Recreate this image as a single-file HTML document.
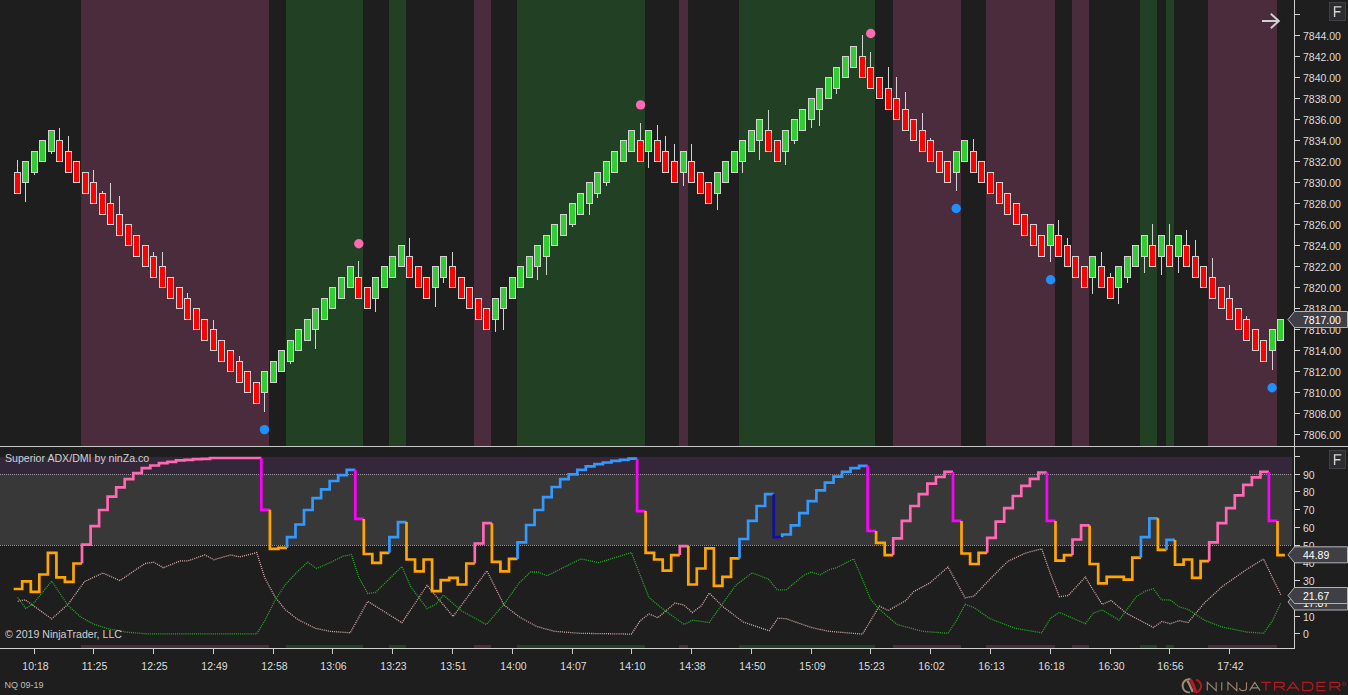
<!DOCTYPE html>
<html><head><meta charset="utf-8"><title>chart</title>
<style>html,body{margin:0;padding:0;background:#1e1e1e;width:1348px;height:695px;overflow:hidden;font-family:"Liberation Sans",sans-serif}</style>
</head><body>
<svg width="1348" height="695" viewBox="0 0 1348 695" style="position:absolute;left:0;top:0">
<rect x="0" y="0" width="1348" height="695" fill="#1e1e1e"/>
<g shape-rendering="crispEdges">
<rect x="81" y="0" width="188" height="446" fill="#4a2c3c"/>
<rect x="81" y="645" width="188" height="3" fill="#4a2c3c"/>
<rect x="286" y="0" width="77" height="446" fill="#224024"/>
<rect x="286" y="645" width="77" height="3" fill="#224024"/>
<rect x="389" y="0" width="17" height="446" fill="#224024"/>
<rect x="389" y="645" width="17" height="3" fill="#224024"/>
<rect x="474" y="0" width="17" height="446" fill="#4a2c3c"/>
<rect x="474" y="645" width="17" height="3" fill="#4a2c3c"/>
<rect x="517" y="0" width="128" height="446" fill="#224024"/>
<rect x="517" y="645" width="128" height="3" fill="#224024"/>
<rect x="679" y="0" width="9" height="446" fill="#4a2c3c"/>
<rect x="679" y="645" width="9" height="3" fill="#4a2c3c"/>
<rect x="739" y="0" width="136" height="446" fill="#224024"/>
<rect x="739" y="645" width="136" height="3" fill="#224024"/>
<rect x="893" y="0" width="68" height="446" fill="#4a2c3c"/>
<rect x="893" y="645" width="68" height="3" fill="#4a2c3c"/>
<rect x="986" y="0" width="69" height="446" fill="#4a2c3c"/>
<rect x="986" y="645" width="69" height="3" fill="#4a2c3c"/>
<rect x="1072" y="0" width="17" height="446" fill="#4a2c3c"/>
<rect x="1072" y="645" width="17" height="3" fill="#4a2c3c"/>
<rect x="1140" y="0" width="17" height="446" fill="#224024"/>
<rect x="1140" y="645" width="17" height="3" fill="#224024"/>
<rect x="1166" y="0" width="8" height="446" fill="#224024"/>
<rect x="1166" y="645" width="8" height="3" fill="#224024"/>
<rect x="1208" y="0" width="69" height="446" fill="#4a2c3c"/>
<rect x="1208" y="645" width="69" height="3" fill="#4a2c3c"/>
</g>
<g shape-rendering="crispEdges">
<rect x="17" y="160" width="1" height="12" fill="#d3d3d3"/>
<rect x="14" y="172" width="7" height="22" fill="#d3d3d3"/>
<rect x="15" y="173" width="5" height="20" fill="#ff0000"/>
<rect x="25" y="183" width="1" height="19" fill="#d3d3d3"/>
<rect x="22" y="161" width="7" height="22" fill="#d3d3d3"/>
<rect x="23" y="162" width="5" height="20" fill="#32cd32"/>
<rect x="34" y="173" width="1" height="2" fill="#d3d3d3"/>
<rect x="31" y="151" width="7" height="22" fill="#d3d3d3"/>
<rect x="32" y="152" width="5" height="20" fill="#32cd32"/>
<rect x="39" y="140" width="7" height="22" fill="#d3d3d3"/>
<rect x="40" y="141" width="5" height="20" fill="#32cd32"/>
<rect x="51" y="152" width="1" height="2" fill="#d3d3d3"/>
<rect x="48" y="130" width="7" height="22" fill="#d3d3d3"/>
<rect x="49" y="131" width="5" height="20" fill="#32cd32"/>
<rect x="59" y="128" width="1" height="12" fill="#d3d3d3"/>
<rect x="56" y="140" width="7" height="22" fill="#d3d3d3"/>
<rect x="57" y="141" width="5" height="20" fill="#ff0000"/>
<rect x="68" y="136" width="1" height="15" fill="#d3d3d3"/>
<rect x="65" y="151" width="7" height="22" fill="#d3d3d3"/>
<rect x="66" y="152" width="5" height="20" fill="#ff0000"/>
<rect x="73" y="161" width="7" height="22" fill="#d3d3d3"/>
<rect x="74" y="162" width="5" height="20" fill="#ff0000"/>
<rect x="82" y="172" width="7" height="22" fill="#d3d3d3"/>
<rect x="83" y="173" width="5" height="20" fill="#ff0000"/>
<rect x="93" y="170" width="1" height="12" fill="#d3d3d3"/>
<rect x="90" y="182" width="7" height="22" fill="#d3d3d3"/>
<rect x="91" y="183" width="5" height="20" fill="#ff0000"/>
<rect x="102" y="191" width="1" height="2" fill="#d3d3d3"/>
<rect x="99" y="193" width="7" height="22" fill="#d3d3d3"/>
<rect x="100" y="194" width="5" height="20" fill="#ff0000"/>
<rect x="110" y="183" width="1" height="20" fill="#d3d3d3"/>
<rect x="107" y="203" width="7" height="22" fill="#d3d3d3"/>
<rect x="108" y="204" width="5" height="20" fill="#ff0000"/>
<rect x="119" y="196" width="1" height="18" fill="#d3d3d3"/>
<rect x="116" y="214" width="7" height="22" fill="#d3d3d3"/>
<rect x="117" y="215" width="5" height="20" fill="#ff0000"/>
<rect x="125" y="224" width="7" height="22" fill="#d3d3d3"/>
<rect x="126" y="225" width="5" height="20" fill="#ff0000"/>
<rect x="133" y="235" width="7" height="22" fill="#d3d3d3"/>
<rect x="134" y="236" width="5" height="20" fill="#ff0000"/>
<rect x="142" y="245" width="7" height="22" fill="#d3d3d3"/>
<rect x="143" y="246" width="5" height="20" fill="#ff0000"/>
<rect x="153" y="252" width="1" height="4" fill="#d3d3d3"/>
<rect x="150" y="256" width="7" height="22" fill="#d3d3d3"/>
<rect x="151" y="257" width="5" height="20" fill="#ff0000"/>
<rect x="162" y="252" width="1" height="14" fill="#d3d3d3"/>
<rect x="159" y="266" width="7" height="22" fill="#d3d3d3"/>
<rect x="160" y="267" width="5" height="20" fill="#ff0000"/>
<rect x="167" y="277" width="7" height="22" fill="#d3d3d3"/>
<rect x="168" y="278" width="5" height="20" fill="#ff0000"/>
<rect x="176" y="287" width="7" height="22" fill="#d3d3d3"/>
<rect x="177" y="288" width="5" height="20" fill="#ff0000"/>
<rect x="187" y="293" width="1" height="5" fill="#d3d3d3"/>
<rect x="184" y="298" width="7" height="22" fill="#d3d3d3"/>
<rect x="185" y="299" width="5" height="20" fill="#ff0000"/>
<rect x="193" y="308" width="7" height="22" fill="#d3d3d3"/>
<rect x="194" y="309" width="5" height="20" fill="#ff0000"/>
<rect x="201" y="319" width="7" height="22" fill="#d3d3d3"/>
<rect x="202" y="320" width="5" height="20" fill="#ff0000"/>
<rect x="213" y="320" width="1" height="9" fill="#d3d3d3"/>
<rect x="210" y="329" width="7" height="22" fill="#d3d3d3"/>
<rect x="211" y="330" width="5" height="20" fill="#ff0000"/>
<rect x="218" y="340" width="7" height="22" fill="#d3d3d3"/>
<rect x="219" y="341" width="5" height="20" fill="#ff0000"/>
<rect x="227" y="350" width="7" height="22" fill="#d3d3d3"/>
<rect x="228" y="351" width="5" height="20" fill="#ff0000"/>
<rect x="239" y="356" width="1" height="5" fill="#d3d3d3"/>
<rect x="236" y="361" width="7" height="22" fill="#d3d3d3"/>
<rect x="237" y="362" width="5" height="20" fill="#ff0000"/>
<rect x="244" y="371" width="7" height="22" fill="#d3d3d3"/>
<rect x="245" y="372" width="5" height="20" fill="#ff0000"/>
<rect x="253" y="382" width="7" height="22" fill="#d3d3d3"/>
<rect x="254" y="383" width="5" height="20" fill="#ff0000"/>
<rect x="264" y="393" width="1" height="19" fill="#d3d3d3"/>
<rect x="261" y="371" width="7" height="22" fill="#d3d3d3"/>
<rect x="262" y="372" width="5" height="20" fill="#32cd32"/>
<rect x="270" y="361" width="7" height="22" fill="#d3d3d3"/>
<rect x="271" y="362" width="5" height="20" fill="#32cd32"/>
<rect x="278" y="350" width="7" height="22" fill="#d3d3d3"/>
<rect x="279" y="351" width="5" height="20" fill="#32cd32"/>
<rect x="290" y="362" width="1" height="2" fill="#d3d3d3"/>
<rect x="287" y="340" width="7" height="22" fill="#d3d3d3"/>
<rect x="288" y="341" width="5" height="20" fill="#32cd32"/>
<rect x="295" y="329" width="7" height="22" fill="#d3d3d3"/>
<rect x="296" y="330" width="5" height="20" fill="#32cd32"/>
<rect x="304" y="319" width="7" height="22" fill="#d3d3d3"/>
<rect x="305" y="320" width="5" height="20" fill="#32cd32"/>
<rect x="315" y="330" width="1" height="19" fill="#d3d3d3"/>
<rect x="312" y="308" width="7" height="22" fill="#d3d3d3"/>
<rect x="313" y="309" width="5" height="20" fill="#32cd32"/>
<rect x="321" y="298" width="7" height="22" fill="#d3d3d3"/>
<rect x="322" y="299" width="5" height="20" fill="#32cd32"/>
<rect x="329" y="287" width="7" height="22" fill="#d3d3d3"/>
<rect x="330" y="288" width="5" height="20" fill="#32cd32"/>
<rect x="338" y="277" width="7" height="22" fill="#d3d3d3"/>
<rect x="339" y="278" width="5" height="20" fill="#32cd32"/>
<rect x="347" y="266" width="7" height="22" fill="#d3d3d3"/>
<rect x="348" y="267" width="5" height="20" fill="#32cd32"/>
<rect x="358" y="261" width="1" height="16" fill="#d3d3d3"/>
<rect x="355" y="277" width="7" height="22" fill="#d3d3d3"/>
<rect x="356" y="278" width="5" height="20" fill="#ff0000"/>
<rect x="364" y="287" width="7" height="22" fill="#d3d3d3"/>
<rect x="365" y="288" width="5" height="20" fill="#ff0000"/>
<rect x="375" y="299" width="1" height="13" fill="#d3d3d3"/>
<rect x="372" y="277" width="7" height="22" fill="#d3d3d3"/>
<rect x="373" y="278" width="5" height="20" fill="#32cd32"/>
<rect x="381" y="266" width="7" height="22" fill="#d3d3d3"/>
<rect x="382" y="267" width="5" height="20" fill="#32cd32"/>
<rect x="389" y="256" width="7" height="22" fill="#d3d3d3"/>
<rect x="390" y="257" width="5" height="20" fill="#32cd32"/>
<rect x="398" y="245" width="7" height="22" fill="#d3d3d3"/>
<rect x="399" y="246" width="5" height="20" fill="#32cd32"/>
<rect x="409" y="238" width="1" height="18" fill="#d3d3d3"/>
<rect x="406" y="256" width="7" height="22" fill="#d3d3d3"/>
<rect x="407" y="257" width="5" height="20" fill="#ff0000"/>
<rect x="415" y="266" width="7" height="22" fill="#d3d3d3"/>
<rect x="416" y="267" width="5" height="20" fill="#ff0000"/>
<rect x="423" y="277" width="7" height="22" fill="#d3d3d3"/>
<rect x="424" y="278" width="5" height="20" fill="#ff0000"/>
<rect x="435" y="288" width="1" height="19" fill="#d3d3d3"/>
<rect x="432" y="266" width="7" height="22" fill="#d3d3d3"/>
<rect x="433" y="267" width="5" height="20" fill="#32cd32"/>
<rect x="443" y="278" width="1" height="5" fill="#d3d3d3"/>
<rect x="440" y="256" width="7" height="22" fill="#d3d3d3"/>
<rect x="441" y="257" width="5" height="20" fill="#32cd32"/>
<rect x="452" y="252" width="1" height="14" fill="#d3d3d3"/>
<rect x="449" y="266" width="7" height="22" fill="#d3d3d3"/>
<rect x="450" y="267" width="5" height="20" fill="#ff0000"/>
<rect x="458" y="277" width="7" height="22" fill="#d3d3d3"/>
<rect x="459" y="278" width="5" height="20" fill="#ff0000"/>
<rect x="466" y="287" width="7" height="22" fill="#d3d3d3"/>
<rect x="467" y="288" width="5" height="20" fill="#ff0000"/>
<rect x="475" y="298" width="7" height="22" fill="#d3d3d3"/>
<rect x="476" y="299" width="5" height="20" fill="#ff0000"/>
<rect x="483" y="308" width="7" height="22" fill="#d3d3d3"/>
<rect x="484" y="309" width="5" height="20" fill="#ff0000"/>
<rect x="495" y="320" width="1" height="12" fill="#d3d3d3"/>
<rect x="492" y="298" width="7" height="22" fill="#d3d3d3"/>
<rect x="493" y="299" width="5" height="20" fill="#32cd32"/>
<rect x="503" y="309" width="1" height="21" fill="#d3d3d3"/>
<rect x="500" y="287" width="7" height="22" fill="#d3d3d3"/>
<rect x="501" y="288" width="5" height="20" fill="#32cd32"/>
<rect x="509" y="277" width="7" height="22" fill="#d3d3d3"/>
<rect x="510" y="278" width="5" height="20" fill="#32cd32"/>
<rect x="517" y="266" width="7" height="22" fill="#d3d3d3"/>
<rect x="518" y="267" width="5" height="20" fill="#32cd32"/>
<rect x="526" y="256" width="7" height="22" fill="#d3d3d3"/>
<rect x="527" y="257" width="5" height="20" fill="#32cd32"/>
<rect x="537" y="267" width="1" height="13" fill="#d3d3d3"/>
<rect x="534" y="245" width="7" height="22" fill="#d3d3d3"/>
<rect x="535" y="246" width="5" height="20" fill="#32cd32"/>
<rect x="546" y="257" width="1" height="18" fill="#d3d3d3"/>
<rect x="543" y="235" width="7" height="22" fill="#d3d3d3"/>
<rect x="544" y="236" width="5" height="20" fill="#32cd32"/>
<rect x="551" y="224" width="7" height="22" fill="#d3d3d3"/>
<rect x="552" y="225" width="5" height="20" fill="#32cd32"/>
<rect x="560" y="214" width="7" height="22" fill="#d3d3d3"/>
<rect x="561" y="215" width="5" height="20" fill="#32cd32"/>
<rect x="572" y="225" width="1" height="2" fill="#d3d3d3"/>
<rect x="569" y="203" width="7" height="22" fill="#d3d3d3"/>
<rect x="570" y="204" width="5" height="20" fill="#32cd32"/>
<rect x="577" y="193" width="7" height="22" fill="#d3d3d3"/>
<rect x="578" y="194" width="5" height="20" fill="#32cd32"/>
<rect x="589" y="204" width="1" height="11" fill="#d3d3d3"/>
<rect x="586" y="182" width="7" height="22" fill="#d3d3d3"/>
<rect x="587" y="183" width="5" height="20" fill="#32cd32"/>
<rect x="597" y="194" width="1" height="4" fill="#d3d3d3"/>
<rect x="594" y="172" width="7" height="22" fill="#d3d3d3"/>
<rect x="595" y="173" width="5" height="20" fill="#32cd32"/>
<rect x="606" y="183" width="1" height="3" fill="#d3d3d3"/>
<rect x="603" y="161" width="7" height="22" fill="#d3d3d3"/>
<rect x="604" y="162" width="5" height="20" fill="#32cd32"/>
<rect x="611" y="151" width="7" height="22" fill="#d3d3d3"/>
<rect x="612" y="152" width="5" height="20" fill="#32cd32"/>
<rect x="620" y="140" width="7" height="22" fill="#d3d3d3"/>
<rect x="621" y="141" width="5" height="20" fill="#32cd32"/>
<rect x="628" y="130" width="7" height="22" fill="#d3d3d3"/>
<rect x="629" y="131" width="5" height="20" fill="#32cd32"/>
<rect x="640" y="123" width="1" height="17" fill="#d3d3d3"/>
<rect x="637" y="140" width="7" height="22" fill="#d3d3d3"/>
<rect x="638" y="141" width="5" height="20" fill="#ff0000"/>
<rect x="648" y="152" width="1" height="16" fill="#d3d3d3"/>
<rect x="645" y="130" width="7" height="22" fill="#d3d3d3"/>
<rect x="646" y="131" width="5" height="20" fill="#32cd32"/>
<rect x="657" y="125" width="1" height="15" fill="#d3d3d3"/>
<rect x="654" y="140" width="7" height="22" fill="#d3d3d3"/>
<rect x="655" y="141" width="5" height="20" fill="#ff0000"/>
<rect x="665" y="136" width="1" height="15" fill="#d3d3d3"/>
<rect x="662" y="151" width="7" height="22" fill="#d3d3d3"/>
<rect x="663" y="152" width="5" height="20" fill="#ff0000"/>
<rect x="674" y="144" width="1" height="17" fill="#d3d3d3"/>
<rect x="671" y="161" width="7" height="22" fill="#d3d3d3"/>
<rect x="672" y="162" width="5" height="20" fill="#ff0000"/>
<rect x="683" y="173" width="1" height="13" fill="#d3d3d3"/>
<rect x="680" y="151" width="7" height="22" fill="#d3d3d3"/>
<rect x="681" y="152" width="5" height="20" fill="#32cd32"/>
<rect x="691" y="144" width="1" height="17" fill="#d3d3d3"/>
<rect x="688" y="161" width="7" height="22" fill="#d3d3d3"/>
<rect x="689" y="162" width="5" height="20" fill="#ff0000"/>
<rect x="697" y="172" width="7" height="22" fill="#d3d3d3"/>
<rect x="698" y="173" width="5" height="20" fill="#ff0000"/>
<rect x="705" y="182" width="7" height="22" fill="#d3d3d3"/>
<rect x="706" y="183" width="5" height="20" fill="#ff0000"/>
<rect x="717" y="194" width="1" height="16" fill="#d3d3d3"/>
<rect x="714" y="172" width="7" height="22" fill="#d3d3d3"/>
<rect x="715" y="173" width="5" height="20" fill="#32cd32"/>
<rect x="722" y="161" width="7" height="22" fill="#d3d3d3"/>
<rect x="723" y="162" width="5" height="20" fill="#32cd32"/>
<rect x="731" y="151" width="7" height="22" fill="#d3d3d3"/>
<rect x="732" y="152" width="5" height="20" fill="#32cd32"/>
<rect x="742" y="162" width="1" height="11" fill="#d3d3d3"/>
<rect x="739" y="140" width="7" height="22" fill="#d3d3d3"/>
<rect x="740" y="141" width="5" height="20" fill="#32cd32"/>
<rect x="748" y="130" width="7" height="22" fill="#d3d3d3"/>
<rect x="749" y="131" width="5" height="20" fill="#32cd32"/>
<rect x="759" y="141" width="1" height="19" fill="#d3d3d3"/>
<rect x="756" y="119" width="7" height="22" fill="#d3d3d3"/>
<rect x="757" y="120" width="5" height="20" fill="#32cd32"/>
<rect x="768" y="110" width="1" height="20" fill="#d3d3d3"/>
<rect x="765" y="130" width="7" height="22" fill="#d3d3d3"/>
<rect x="766" y="131" width="5" height="20" fill="#ff0000"/>
<rect x="774" y="140" width="7" height="22" fill="#d3d3d3"/>
<rect x="775" y="141" width="5" height="20" fill="#ff0000"/>
<rect x="785" y="152" width="1" height="13" fill="#d3d3d3"/>
<rect x="782" y="130" width="7" height="22" fill="#d3d3d3"/>
<rect x="783" y="131" width="5" height="20" fill="#32cd32"/>
<rect x="794" y="141" width="1" height="3" fill="#d3d3d3"/>
<rect x="791" y="119" width="7" height="22" fill="#d3d3d3"/>
<rect x="792" y="120" width="5" height="20" fill="#32cd32"/>
<rect x="799" y="109" width="7" height="22" fill="#d3d3d3"/>
<rect x="800" y="110" width="5" height="20" fill="#32cd32"/>
<rect x="811" y="120" width="1" height="8" fill="#d3d3d3"/>
<rect x="808" y="98" width="7" height="22" fill="#d3d3d3"/>
<rect x="809" y="99" width="5" height="20" fill="#32cd32"/>
<rect x="819" y="110" width="1" height="16" fill="#d3d3d3"/>
<rect x="816" y="88" width="7" height="22" fill="#d3d3d3"/>
<rect x="817" y="89" width="5" height="20" fill="#32cd32"/>
<rect x="825" y="77" width="7" height="22" fill="#d3d3d3"/>
<rect x="826" y="78" width="5" height="20" fill="#32cd32"/>
<rect x="836" y="89" width="1" height="5" fill="#d3d3d3"/>
<rect x="833" y="67" width="7" height="22" fill="#d3d3d3"/>
<rect x="834" y="68" width="5" height="20" fill="#32cd32"/>
<rect x="842" y="56" width="7" height="22" fill="#d3d3d3"/>
<rect x="843" y="57" width="5" height="20" fill="#32cd32"/>
<rect x="850" y="46" width="7" height="22" fill="#d3d3d3"/>
<rect x="851" y="47" width="5" height="20" fill="#32cd32"/>
<rect x="862" y="35" width="1" height="21" fill="#d3d3d3"/>
<rect x="859" y="56" width="7" height="22" fill="#d3d3d3"/>
<rect x="860" y="57" width="5" height="20" fill="#ff0000"/>
<rect x="870" y="52" width="1" height="15" fill="#d3d3d3"/>
<rect x="867" y="67" width="7" height="22" fill="#d3d3d3"/>
<rect x="868" y="68" width="5" height="20" fill="#ff0000"/>
<rect x="876" y="77" width="7" height="22" fill="#d3d3d3"/>
<rect x="877" y="78" width="5" height="20" fill="#ff0000"/>
<rect x="888" y="67" width="1" height="21" fill="#d3d3d3"/>
<rect x="885" y="88" width="7" height="22" fill="#d3d3d3"/>
<rect x="886" y="89" width="5" height="20" fill="#ff0000"/>
<rect x="896" y="77" width="1" height="21" fill="#d3d3d3"/>
<rect x="893" y="98" width="7" height="22" fill="#d3d3d3"/>
<rect x="894" y="99" width="5" height="20" fill="#ff0000"/>
<rect x="905" y="92" width="1" height="17" fill="#d3d3d3"/>
<rect x="902" y="109" width="7" height="22" fill="#d3d3d3"/>
<rect x="903" y="110" width="5" height="20" fill="#ff0000"/>
<rect x="910" y="119" width="7" height="22" fill="#d3d3d3"/>
<rect x="911" y="120" width="5" height="20" fill="#ff0000"/>
<rect x="922" y="113" width="1" height="17" fill="#d3d3d3"/>
<rect x="919" y="130" width="7" height="22" fill="#d3d3d3"/>
<rect x="920" y="131" width="5" height="20" fill="#ff0000"/>
<rect x="930" y="138" width="1" height="2" fill="#d3d3d3"/>
<rect x="927" y="140" width="7" height="22" fill="#d3d3d3"/>
<rect x="928" y="141" width="5" height="20" fill="#ff0000"/>
<rect x="936" y="151" width="7" height="22" fill="#d3d3d3"/>
<rect x="937" y="152" width="5" height="20" fill="#ff0000"/>
<rect x="944" y="161" width="7" height="22" fill="#d3d3d3"/>
<rect x="945" y="162" width="5" height="20" fill="#ff0000"/>
<rect x="956" y="173" width="1" height="18" fill="#d3d3d3"/>
<rect x="953" y="151" width="7" height="22" fill="#d3d3d3"/>
<rect x="954" y="152" width="5" height="20" fill="#32cd32"/>
<rect x="961" y="140" width="7" height="22" fill="#d3d3d3"/>
<rect x="962" y="141" width="5" height="20" fill="#32cd32"/>
<rect x="973" y="139" width="1" height="12" fill="#d3d3d3"/>
<rect x="970" y="151" width="7" height="22" fill="#d3d3d3"/>
<rect x="971" y="152" width="5" height="20" fill="#ff0000"/>
<rect x="978" y="161" width="7" height="22" fill="#d3d3d3"/>
<rect x="979" y="162" width="5" height="20" fill="#ff0000"/>
<rect x="987" y="172" width="7" height="22" fill="#d3d3d3"/>
<rect x="988" y="173" width="5" height="20" fill="#ff0000"/>
<rect x="996" y="182" width="7" height="22" fill="#d3d3d3"/>
<rect x="997" y="183" width="5" height="20" fill="#ff0000"/>
<rect x="1004" y="193" width="7" height="22" fill="#d3d3d3"/>
<rect x="1005" y="194" width="5" height="20" fill="#ff0000"/>
<rect x="1013" y="203" width="7" height="22" fill="#d3d3d3"/>
<rect x="1014" y="204" width="5" height="20" fill="#ff0000"/>
<rect x="1021" y="214" width="7" height="22" fill="#d3d3d3"/>
<rect x="1022" y="215" width="5" height="20" fill="#ff0000"/>
<rect x="1030" y="224" width="7" height="22" fill="#d3d3d3"/>
<rect x="1031" y="225" width="5" height="20" fill="#ff0000"/>
<rect x="1038" y="235" width="7" height="22" fill="#d3d3d3"/>
<rect x="1039" y="236" width="5" height="20" fill="#ff0000"/>
<rect x="1050" y="246" width="1" height="16" fill="#d3d3d3"/>
<rect x="1047" y="224" width="7" height="22" fill="#d3d3d3"/>
<rect x="1048" y="225" width="5" height="20" fill="#32cd32"/>
<rect x="1058" y="220" width="1" height="15" fill="#d3d3d3"/>
<rect x="1055" y="235" width="7" height="22" fill="#d3d3d3"/>
<rect x="1056" y="236" width="5" height="20" fill="#ff0000"/>
<rect x="1067" y="238" width="1" height="7" fill="#d3d3d3"/>
<rect x="1064" y="245" width="7" height="22" fill="#d3d3d3"/>
<rect x="1065" y="246" width="5" height="20" fill="#ff0000"/>
<rect x="1072" y="256" width="7" height="22" fill="#d3d3d3"/>
<rect x="1073" y="257" width="5" height="20" fill="#ff0000"/>
<rect x="1081" y="266" width="7" height="22" fill="#d3d3d3"/>
<rect x="1082" y="267" width="5" height="20" fill="#ff0000"/>
<rect x="1092" y="278" width="1" height="16" fill="#d3d3d3"/>
<rect x="1089" y="256" width="7" height="22" fill="#d3d3d3"/>
<rect x="1090" y="257" width="5" height="20" fill="#32cd32"/>
<rect x="1101" y="252" width="1" height="14" fill="#d3d3d3"/>
<rect x="1098" y="266" width="7" height="22" fill="#d3d3d3"/>
<rect x="1099" y="267" width="5" height="20" fill="#ff0000"/>
<rect x="1110" y="273" width="1" height="4" fill="#d3d3d3"/>
<rect x="1107" y="277" width="7" height="22" fill="#d3d3d3"/>
<rect x="1108" y="278" width="5" height="20" fill="#ff0000"/>
<rect x="1118" y="288" width="1" height="16" fill="#d3d3d3"/>
<rect x="1115" y="266" width="7" height="22" fill="#d3d3d3"/>
<rect x="1116" y="267" width="5" height="20" fill="#32cd32"/>
<rect x="1127" y="278" width="1" height="5" fill="#d3d3d3"/>
<rect x="1124" y="256" width="7" height="22" fill="#d3d3d3"/>
<rect x="1125" y="257" width="5" height="20" fill="#32cd32"/>
<rect x="1132" y="245" width="7" height="22" fill="#d3d3d3"/>
<rect x="1133" y="246" width="5" height="20" fill="#32cd32"/>
<rect x="1144" y="257" width="1" height="16" fill="#d3d3d3"/>
<rect x="1141" y="235" width="7" height="22" fill="#d3d3d3"/>
<rect x="1142" y="236" width="5" height="20" fill="#32cd32"/>
<rect x="1152" y="224" width="1" height="21" fill="#d3d3d3"/>
<rect x="1149" y="245" width="7" height="22" fill="#d3d3d3"/>
<rect x="1150" y="246" width="5" height="20" fill="#ff0000"/>
<rect x="1161" y="257" width="1" height="18" fill="#d3d3d3"/>
<rect x="1158" y="235" width="7" height="22" fill="#d3d3d3"/>
<rect x="1159" y="236" width="5" height="20" fill="#32cd32"/>
<rect x="1169" y="224" width="1" height="21" fill="#d3d3d3"/>
<rect x="1166" y="245" width="7" height="22" fill="#d3d3d3"/>
<rect x="1167" y="246" width="5" height="20" fill="#ff0000"/>
<rect x="1178" y="257" width="1" height="16" fill="#d3d3d3"/>
<rect x="1175" y="235" width="7" height="22" fill="#d3d3d3"/>
<rect x="1176" y="236" width="5" height="20" fill="#32cd32"/>
<rect x="1186" y="230" width="1" height="15" fill="#d3d3d3"/>
<rect x="1183" y="245" width="7" height="22" fill="#d3d3d3"/>
<rect x="1184" y="246" width="5" height="20" fill="#ff0000"/>
<rect x="1195" y="240" width="1" height="16" fill="#d3d3d3"/>
<rect x="1192" y="256" width="7" height="22" fill="#d3d3d3"/>
<rect x="1193" y="257" width="5" height="20" fill="#ff0000"/>
<rect x="1200" y="266" width="7" height="22" fill="#d3d3d3"/>
<rect x="1201" y="267" width="5" height="20" fill="#ff0000"/>
<rect x="1212" y="258" width="1" height="19" fill="#d3d3d3"/>
<rect x="1209" y="277" width="7" height="22" fill="#d3d3d3"/>
<rect x="1210" y="278" width="5" height="20" fill="#ff0000"/>
<rect x="1218" y="287" width="7" height="22" fill="#d3d3d3"/>
<rect x="1219" y="288" width="5" height="20" fill="#ff0000"/>
<rect x="1229" y="285" width="1" height="13" fill="#d3d3d3"/>
<rect x="1226" y="298" width="7" height="22" fill="#d3d3d3"/>
<rect x="1227" y="299" width="5" height="20" fill="#ff0000"/>
<rect x="1235" y="308" width="7" height="22" fill="#d3d3d3"/>
<rect x="1236" y="309" width="5" height="20" fill="#ff0000"/>
<rect x="1246" y="316" width="1" height="3" fill="#d3d3d3"/>
<rect x="1243" y="319" width="7" height="22" fill="#d3d3d3"/>
<rect x="1244" y="320" width="5" height="20" fill="#ff0000"/>
<rect x="1252" y="329" width="7" height="22" fill="#d3d3d3"/>
<rect x="1253" y="330" width="5" height="20" fill="#ff0000"/>
<rect x="1260" y="340" width="7" height="22" fill="#d3d3d3"/>
<rect x="1261" y="341" width="5" height="20" fill="#ff0000"/>
<rect x="1272" y="351" width="1" height="19" fill="#d3d3d3"/>
<rect x="1269" y="329" width="7" height="22" fill="#d3d3d3"/>
<rect x="1270" y="330" width="5" height="20" fill="#32cd32"/>
<rect x="1277" y="319" width="7" height="22" fill="#d3d3d3"/>
<rect x="1278" y="320" width="5" height="20" fill="#32cd32"/>
</g>
<circle cx="264.4" cy="429.6" r="4.7" fill="#1e90ff"/>
<circle cx="358.8" cy="243.7" r="4.7" fill="#ff69b4"/>
<circle cx="640.6" cy="104.9" r="4.7" fill="#ff69b4"/>
<circle cx="870.7" cy="33.5" r="4.7" fill="#ff69b4"/>
<circle cx="956.2" cy="208.5" r="4.7" fill="#1e90ff"/>
<circle cx="1050.6" cy="279.7" r="4.7" fill="#1e90ff"/>
<circle cx="1272.1" cy="387.7" r="4.7" fill="#1e90ff"/>
<g shape-rendering="crispEdges">
<rect x="0" y="457" width="1292" height="17" fill="#35273a"/>
<rect x="0" y="474" width="1292" height="71" fill="#383838"/>
</g>
<line x1="0" y1="474.5" x2="1292" y2="474.5" stroke="#939393" stroke-width="1" stroke-dasharray="1 1"/>
<line x1="0" y1="545.5" x2="1292" y2="545.5" stroke="#939393" stroke-width="1" stroke-dasharray="1 1"/>
<polyline points="17.7,601.3 25.2,599.8 51.7,618.9 68.1,604.3 84.5,581.6 102.9,573.0 119.8,580.6 145.0,563.5 153.8,562.2 163.4,567.7 180.3,560.9 187.9,560.9 204.8,554.9 213.9,559.7 230.8,554.9 239.6,556.9 256.7,552.6 264.8,577.8 274.9,596.7 285.0,609.4 297.6,619.4 315.3,628.3 330.0,631.3 350.2,632.8 367.8,601.3 401.9,622.7 427.1,585.4 453.1,616.4 486.9,570.8 504.0,605.1 519.2,616.9 536.8,626.5 554.5,631.3 579.7,633.3 631.4,634.1 640.2,620.7 649.0,613.9 657.9,617.7 675.1,603.0 684.0,605.1 692.3,612.6 701.6,605.6 709.2,593.0 723.0,606.8 743.2,622.0 769.2,630.8 778.0,618.2 786.1,618.7 811.3,627.5 829.0,631.3 862.5,634.1 879.4,606.1 888.2,610.6 905.9,600.5 913.5,591.7 929.9,582.9 948.0,567.0 965.2,598.0 974.0,596.0 990.0,579.1 1007.7,561.4 1025.3,553.1 1041.7,548.8 1050.5,574.0 1059.4,596.7 1068.2,595.5 1085.3,577.1 1093.4,590.4 1102.2,604.3 1111.1,600.5 1126.2,613.1 1153.4,627.5 1162.0,621.5 1170.3,623.7 1179.2,620.7 1188.0,622.5 1204.4,603.0 1222.0,586.7 1247.3,569.0 1263.6,558.9 1272.5,577.8 1280.8,594.7" fill="none" stroke="#d6a8a8" stroke-width="1.3" stroke-dasharray="1.05 1.05"/>
<polyline points="17.7,597.5 25.8,608.4 32.9,604.2 51.7,581.1 68.1,605.6 80.7,616.9 93.3,624.0 108.4,628.8 126.1,632.1 146.3,633.8 256.7,633.8 264.8,620.7 274.9,600.5 285.0,584.9 297.6,571.5 307.7,562.2 316.5,568.5 330.0,562.7 342.6,556.4 351.4,554.6 359.0,577.8 367.8,593.5 375.4,592.5 401.9,566.5 410.7,586.7 427.1,608.6 435.9,604.3 443.5,595.0 461.1,610.6 486.4,624.5 504.0,604.3 519.2,582.9 530.5,572.0 538.1,572.0 546.9,575.8 580.9,558.9 598.6,562.7 631.4,552.6 640.2,575.3 649.0,597.5 660.0,606.8 684.0,624.5 692.8,620.2 709.2,622.5 735.7,585.4 752.1,572.8 768.4,579.1 777.3,589.9 786.1,589.9 803.8,575.3 811.3,572.0 820.2,574.8 829.0,569.8 836.5,567.7 853.7,558.9 861.8,577.8 870.6,599.3 879.4,609.4 897.1,624.5 922.3,631.3 948.0,633.3 956.3,620.7 965.2,604.3 974.0,607.6 990.0,618.7 1015.2,628.3 1041.7,632.8 1050.5,618.2 1059.4,612.4 1085.3,623.7 1093.4,613.1 1102.2,609.9 1119.1,620.2 1136.3,596.7 1145.1,591.2 1153.4,588.7 1161.5,599.8 1170.3,600.0 1179.2,606.8 1188.0,609.4 1204.4,620.2 1222.0,627.0 1247.3,632.1 1263.6,633.3 1272.5,620.7 1280.8,603.0" fill="none" stroke="#25ac25" stroke-width="1.3" stroke-dasharray="1.05 1.05"/>
<path d="M13.7,589.0 H22.2 V581.4 H30.8 V591.9 H39.3 V574.5 H47.9 V552.8 H56.4 V577.4 H64.9 V581.8 H73.5 V563.5 H82.0" fill="none" stroke="#ffa500" stroke-width="2.7" stroke-linejoin="miter" stroke-linecap="butt"/>
<path d="M82.0,563.5 V544.6 H90.6 V526.1 H99.1 V510.0 H107.6 V496.6 H116.2 V487.3 H124.7 V479.2 H133.3 V473.2 H141.8 V468.2 H150.3 V465.5 H158.9 V463.2 H167.4 V461.9 H176.0 V460.4 H184.5 V459.8 H193.0 V459.1 H201.6 V458.8 H210.1 V458.0 H218.6 V458.0 H227.2 V458.0 H235.7 V458.0 H244.3 V458.0 H252.8 V458.0 H261.3" fill="none" stroke="#ff69b4" stroke-width="2.7" stroke-linejoin="miter" stroke-linecap="butt"/>
<path d="M261.3,458.0 V509.8 H269.9" fill="none" stroke="#ff00ff" stroke-width="2.7" stroke-linejoin="miter" stroke-linecap="butt"/>
<path d="M269.9,509.8 V548.8 H278.4 V547.9 H287.0" fill="none" stroke="#ffa500" stroke-width="2.7" stroke-linejoin="miter" stroke-linecap="butt"/>
<path d="M287.0,547.9 V537.2 H295.5 V524.5 H304.0 V510.0 H312.6 V498.2 H321.1 V489.3 H329.7 V481.0 H338.2 V475.2 H346.7 V469.9 H355.3" fill="none" stroke="#3399ff" stroke-width="2.7" stroke-linejoin="miter" stroke-linecap="butt"/>
<path d="M355.3,469.9 V518.9 H363.8" fill="none" stroke="#ff00ff" stroke-width="2.7" stroke-linejoin="miter" stroke-linecap="butt"/>
<path d="M363.8,518.9 V554.0 H372.3 V562.9 H380.9 V552.8 H389.4" fill="none" stroke="#ffa500" stroke-width="2.7" stroke-linejoin="miter" stroke-linecap="butt"/>
<path d="M389.4,552.8 V537.2 H398.0 V522.1 H406.5" fill="none" stroke="#3399ff" stroke-width="2.7" stroke-linejoin="miter" stroke-linecap="butt"/>
<path d="M406.5,522.1 V559.5 H415.0 V571.4 H423.6 V559.5 H432.1 V591.2 H440.7 V580.1 H449.2 V577.8 H457.7 V584.5 H466.3 V563.5 H474.8" fill="none" stroke="#ffa500" stroke-width="2.7" stroke-linejoin="miter" stroke-linecap="butt"/>
<path d="M474.8,563.5 V543.5 H483.4 V523.2 H491.9" fill="none" stroke="#ff69b4" stroke-width="2.7" stroke-linejoin="miter" stroke-linecap="butt"/>
<path d="M491.9,523.2 V561.8 H500.4 V571.4 H509.0 V558.9 H517.5" fill="none" stroke="#ffa500" stroke-width="2.7" stroke-linejoin="miter" stroke-linecap="butt"/>
<path d="M517.5,558.9 V542.4 H526.1 V525.0 H534.6 V510.0 H543.1 V497.1 H551.7 V487.0 H560.2 V479.2 H568.7 V474.3 H577.3 V469.9 H585.8 V466.3 H594.4 V464.1 H602.9 V462.5 H611.4 V460.9 H620.0 V459.8 H628.5 V458.7 H637.1" fill="none" stroke="#3399ff" stroke-width="2.7" stroke-linejoin="miter" stroke-linecap="butt"/>
<path d="M637.1,458.7 V511.1 H645.6" fill="none" stroke="#ff00ff" stroke-width="2.7" stroke-linejoin="miter" stroke-linecap="butt"/>
<path d="M645.6,511.1 V552.8 H654.1 V559.5 H662.7 V570.7 H671.2 V555.1 H679.8" fill="none" stroke="#ffa500" stroke-width="2.7" stroke-linejoin="miter" stroke-linecap="butt"/>
<path d="M679.8,555.1 V546.1 H688.3" fill="none" stroke="#ff69b4" stroke-width="2.7" stroke-linejoin="miter" stroke-linecap="butt"/>
<path d="M688.3,546.1 V584.5 H696.8 V568.5 H705.4 V548.4 H713.9 V585.9 H722.4 V576.9 H731.0 V558.4 H739.5" fill="none" stroke="#ffa500" stroke-width="2.7" stroke-linejoin="miter" stroke-linecap="butt"/>
<path d="M739.5,558.4 V539.0 H748.1 V520.9 H756.6 V506.0 H765.1 V494.2 H773.7" fill="none" stroke="#3399ff" stroke-width="2.7" stroke-linejoin="miter" stroke-linecap="butt"/>
<path d="M773.7,494.2 V537.2 H782.2" fill="none" stroke="#10109a" stroke-width="2.7" stroke-linejoin="miter" stroke-linecap="butt"/>
<path d="M782.2,537.2 V534.5 H790.8 V525.4 H799.3 V513.1 H807.8 V501.1 H816.4 V490.4 H824.9 V482.6 H833.5 V476.6 H842.0 V471.9 H850.5 V468.1 H859.1 V465.8 H867.6" fill="none" stroke="#3399ff" stroke-width="2.7" stroke-linejoin="miter" stroke-linecap="butt"/>
<path d="M867.6,465.8 V531.0 H876.1" fill="none" stroke="#ff00ff" stroke-width="2.7" stroke-linejoin="miter" stroke-linecap="butt"/>
<path d="M876.1,531.0 V542.8 H884.7 V555.1 H893.2" fill="none" stroke="#ffa500" stroke-width="2.7" stroke-linejoin="miter" stroke-linecap="butt"/>
<path d="M893.2,555.1 V538.3 H901.8 V520.9 H910.3 V506.0 H918.8 V494.2 H927.4 V483.7 H935.9 V477.0 H944.5 V471.9 H953.0" fill="none" stroke="#ff69b4" stroke-width="2.7" stroke-linejoin="miter" stroke-linecap="butt"/>
<path d="M953.0,471.9 V520.9 H961.5" fill="none" stroke="#ff00ff" stroke-width="2.7" stroke-linejoin="miter" stroke-linecap="butt"/>
<path d="M961.5,520.9 V553.5 H970.1 V564.0 H978.6 V552.8 H987.2" fill="none" stroke="#ffa500" stroke-width="2.7" stroke-linejoin="miter" stroke-linecap="butt"/>
<path d="M987.2,552.8 V537.9 H995.7 V521.6 H1004.2 V508.2 H1012.8 V496.0 H1021.3 V485.9 H1029.9 V478.8 H1038.4 V472.5 H1046.9" fill="none" stroke="#ff69b4" stroke-width="2.7" stroke-linejoin="miter" stroke-linecap="butt"/>
<path d="M1046.9,472.5 V520.9 H1055.5" fill="none" stroke="#ff00ff" stroke-width="2.7" stroke-linejoin="miter" stroke-linecap="butt"/>
<path d="M1055.5,520.9 V560.6 H1064.0 V555.1 H1072.5" fill="none" stroke="#ffa500" stroke-width="2.7" stroke-linejoin="miter" stroke-linecap="butt"/>
<path d="M1072.5,555.1 V539.5 H1081.1 V525.4 H1089.6" fill="none" stroke="#ff69b4" stroke-width="2.7" stroke-linejoin="miter" stroke-linecap="butt"/>
<path d="M1089.6,525.4 V564.0 H1098.2 V583.4 H1106.7 V576.9 H1115.2 V576.9 H1123.8 V579.6 H1132.3 V557.7 H1140.9" fill="none" stroke="#ffa500" stroke-width="2.7" stroke-linejoin="miter" stroke-linecap="butt"/>
<path d="M1140.9,557.7 V537.2 H1149.4 V518.3 H1157.9" fill="none" stroke="#3399ff" stroke-width="2.7" stroke-linejoin="miter" stroke-linecap="butt"/>
<path d="M1157.9,518.3 V549.9 H1166.5" fill="none" stroke="#ffa500" stroke-width="2.7" stroke-linejoin="miter" stroke-linecap="butt"/>
<path d="M1166.5,549.9 V539.9 H1175.0" fill="none" stroke="#3399ff" stroke-width="2.7" stroke-linejoin="miter" stroke-linecap="butt"/>
<path d="M1175.0,539.9 V564.7 H1183.6 V559.5 H1192.1 V577.8 H1200.6 V561.1 H1209.2" fill="none" stroke="#ffa500" stroke-width="2.7" stroke-linejoin="miter" stroke-linecap="butt"/>
<path d="M1209.2,561.1 V542.4 H1217.7 V523.2 H1226.2 V508.2 H1234.8 V495.3 H1243.3 V484.8 H1251.9 V477.4 H1260.4 V471.9 H1268.9" fill="none" stroke="#ff69b4" stroke-width="2.7" stroke-linejoin="miter" stroke-linecap="butt"/>
<path d="M1268.9,471.9 V520.9 H1277.5" fill="none" stroke="#ff00ff" stroke-width="2.7" stroke-linejoin="miter" stroke-linecap="butt"/>
<path d="M1277.5,520.9 V555.1 H1284.9" fill="none" stroke="#ffa500" stroke-width="2.7" stroke-linejoin="miter" stroke-linecap="butt"/>
<g shape-rendering="crispEdges">
<rect x="0" y="446" width="1348" height="1" fill="#c8c8c8"/>
<rect x="1294" y="0" width="1" height="649" fill="#d0d0d0"/>
<rect x="0" y="648" width="1295" height="1" fill="#d0d0d0"/>
<rect x="1295" y="434" width="5" height="1" fill="#d0d0d0"/>
<rect x="1295" y="413" width="5" height="1" fill="#d0d0d0"/>
<rect x="1295" y="392" width="5" height="1" fill="#d0d0d0"/>
<rect x="1295" y="371" width="5" height="1" fill="#d0d0d0"/>
<rect x="1295" y="350" width="5" height="1" fill="#d0d0d0"/>
<rect x="1295" y="329" width="5" height="1" fill="#d0d0d0"/>
<rect x="1295" y="308" width="5" height="1" fill="#d0d0d0"/>
<rect x="1295" y="287" width="5" height="1" fill="#d0d0d0"/>
<rect x="1295" y="266" width="5" height="1" fill="#d0d0d0"/>
<rect x="1295" y="245" width="5" height="1" fill="#d0d0d0"/>
<rect x="1295" y="224" width="5" height="1" fill="#d0d0d0"/>
<rect x="1295" y="203" width="5" height="1" fill="#d0d0d0"/>
<rect x="1295" y="182" width="5" height="1" fill="#d0d0d0"/>
<rect x="1295" y="161" width="5" height="1" fill="#d0d0d0"/>
<rect x="1295" y="140" width="5" height="1" fill="#d0d0d0"/>
<rect x="1295" y="119" width="5" height="1" fill="#d0d0d0"/>
<rect x="1295" y="98" width="5" height="1" fill="#d0d0d0"/>
<rect x="1295" y="77" width="5" height="1" fill="#d0d0d0"/>
<rect x="1295" y="56" width="5" height="1" fill="#d0d0d0"/>
<rect x="1295" y="35" width="5" height="1" fill="#d0d0d0"/>
<rect x="1295" y="14" width="5" height="1" fill="#d0d0d0"/>
<rect x="1295" y="633" width="5" height="1" fill="#d0d0d0"/>
<rect x="1295" y="616" width="5" height="1" fill="#d0d0d0"/>
<rect x="1295" y="598" width="5" height="1" fill="#d0d0d0"/>
<rect x="1295" y="580" width="5" height="1" fill="#d0d0d0"/>
<rect x="1295" y="562" width="5" height="1" fill="#d0d0d0"/>
<rect x="1295" y="545" width="5" height="1" fill="#d0d0d0"/>
<rect x="1295" y="527" width="5" height="1" fill="#d0d0d0"/>
<rect x="1295" y="509" width="5" height="1" fill="#d0d0d0"/>
<rect x="1295" y="491" width="5" height="1" fill="#d0d0d0"/>
<rect x="1295" y="474" width="5" height="1" fill="#d0d0d0"/>
<rect x="1295" y="456" width="5" height="1" fill="#d0d0d0"/>
<rect x="34" y="649" width="1" height="5" fill="#d0d0d0"/>
<rect x="93" y="649" width="1" height="5" fill="#d0d0d0"/>
<rect x="153" y="649" width="1" height="5" fill="#d0d0d0"/>
<rect x="213" y="649" width="1" height="5" fill="#d0d0d0"/>
<rect x="273" y="649" width="1" height="5" fill="#d0d0d0"/>
<rect x="332" y="649" width="1" height="5" fill="#d0d0d0"/>
<rect x="392" y="649" width="1" height="5" fill="#d0d0d0"/>
<rect x="452" y="649" width="1" height="5" fill="#d0d0d0"/>
<rect x="512" y="649" width="1" height="5" fill="#d0d0d0"/>
<rect x="572" y="649" width="1" height="5" fill="#d0d0d0"/>
<rect x="631" y="649" width="1" height="5" fill="#d0d0d0"/>
<rect x="691" y="649" width="1" height="5" fill="#d0d0d0"/>
<rect x="751" y="649" width="1" height="5" fill="#d0d0d0"/>
<rect x="811" y="649" width="1" height="5" fill="#d0d0d0"/>
<rect x="870" y="649" width="1" height="5" fill="#d0d0d0"/>
<rect x="930" y="649" width="1" height="5" fill="#d0d0d0"/>
<rect x="990" y="649" width="1" height="5" fill="#d0d0d0"/>
<rect x="1050" y="649" width="1" height="5" fill="#d0d0d0"/>
<rect x="1110" y="649" width="1" height="5" fill="#d0d0d0"/>
<rect x="1169" y="649" width="1" height="5" fill="#d0d0d0"/>
<rect x="1229" y="649" width="1" height="5" fill="#d0d0d0"/>
</g>
<text x="1303" y="439.1" font-family="Liberation Sans, sans-serif" font-size="10.5" fill="#dcdcdc" text-anchor="start" >7806.00</text>
<text x="1303" y="418.1" font-family="Liberation Sans, sans-serif" font-size="10.5" fill="#dcdcdc" text-anchor="start" >7808.00</text>
<text x="1303" y="397.1" font-family="Liberation Sans, sans-serif" font-size="10.5" fill="#dcdcdc" text-anchor="start" >7810.00</text>
<text x="1303" y="376.1" font-family="Liberation Sans, sans-serif" font-size="10.5" fill="#dcdcdc" text-anchor="start" >7812.00</text>
<text x="1303" y="355.1" font-family="Liberation Sans, sans-serif" font-size="10.5" fill="#dcdcdc" text-anchor="start" >7814.00</text>
<text x="1303" y="334.1" font-family="Liberation Sans, sans-serif" font-size="10.5" fill="#dcdcdc" text-anchor="start" >7816.00</text>
<text x="1303" y="313.1" font-family="Liberation Sans, sans-serif" font-size="10.5" fill="#dcdcdc" text-anchor="start" >7818.00</text>
<text x="1303" y="292.1" font-family="Liberation Sans, sans-serif" font-size="10.5" fill="#dcdcdc" text-anchor="start" >7820.00</text>
<text x="1303" y="271.1" font-family="Liberation Sans, sans-serif" font-size="10.5" fill="#dcdcdc" text-anchor="start" >7822.00</text>
<text x="1303" y="250.1" font-family="Liberation Sans, sans-serif" font-size="10.5" fill="#dcdcdc" text-anchor="start" >7824.00</text>
<text x="1303" y="229.1" font-family="Liberation Sans, sans-serif" font-size="10.5" fill="#dcdcdc" text-anchor="start" >7826.00</text>
<text x="1303" y="208.1" font-family="Liberation Sans, sans-serif" font-size="10.5" fill="#dcdcdc" text-anchor="start" >7828.00</text>
<text x="1303" y="187.1" font-family="Liberation Sans, sans-serif" font-size="10.5" fill="#dcdcdc" text-anchor="start" >7830.00</text>
<text x="1303" y="166.1" font-family="Liberation Sans, sans-serif" font-size="10.5" fill="#dcdcdc" text-anchor="start" >7832.00</text>
<text x="1303" y="145.1" font-family="Liberation Sans, sans-serif" font-size="10.5" fill="#dcdcdc" text-anchor="start" >7834.00</text>
<text x="1303" y="124.1" font-family="Liberation Sans, sans-serif" font-size="10.5" fill="#dcdcdc" text-anchor="start" >7836.00</text>
<text x="1303" y="103.1" font-family="Liberation Sans, sans-serif" font-size="10.5" fill="#dcdcdc" text-anchor="start" >7838.00</text>
<text x="1303" y="82.1" font-family="Liberation Sans, sans-serif" font-size="10.5" fill="#dcdcdc" text-anchor="start" >7840.00</text>
<text x="1303" y="61.1" font-family="Liberation Sans, sans-serif" font-size="10.5" fill="#dcdcdc" text-anchor="start" >7842.00</text>
<text x="1303" y="40.1" font-family="Liberation Sans, sans-serif" font-size="10.5" fill="#dcdcdc" text-anchor="start" >7844.00</text>
<text x="1303" y="638.0" font-family="Liberation Sans, sans-serif" font-size="10.5" fill="#dcdcdc" text-anchor="start" >0</text>
<text x="1303" y="621.0" font-family="Liberation Sans, sans-serif" font-size="10.5" fill="#dcdcdc" text-anchor="start" >10</text>
<text x="1303" y="603.0" font-family="Liberation Sans, sans-serif" font-size="10.5" fill="#dcdcdc" text-anchor="start" >20</text>
<text x="1303" y="585.0" font-family="Liberation Sans, sans-serif" font-size="10.5" fill="#dcdcdc" text-anchor="start" >30</text>
<text x="1303" y="567.0" font-family="Liberation Sans, sans-serif" font-size="10.5" fill="#dcdcdc" text-anchor="start" >40</text>
<text x="1303" y="550.0" font-family="Liberation Sans, sans-serif" font-size="10.5" fill="#dcdcdc" text-anchor="start" >50</text>
<text x="1303" y="532.0" font-family="Liberation Sans, sans-serif" font-size="10.5" fill="#dcdcdc" text-anchor="start" >60</text>
<text x="1303" y="514.0" font-family="Liberation Sans, sans-serif" font-size="10.5" fill="#dcdcdc" text-anchor="start" >70</text>
<text x="1303" y="496.0" font-family="Liberation Sans, sans-serif" font-size="10.5" fill="#dcdcdc" text-anchor="start" >80</text>
<text x="1303" y="479.0" font-family="Liberation Sans, sans-serif" font-size="10.5" fill="#dcdcdc" text-anchor="start" >90</text>
<text x="35.5" y="670" font-family="Liberation Sans, sans-serif" font-size="10.5" fill="#dcdcdc" text-anchor="middle" >10:18</text>
<text x="94.5" y="670" font-family="Liberation Sans, sans-serif" font-size="10.5" fill="#dcdcdc" text-anchor="middle" >11:25</text>
<text x="154.5" y="670" font-family="Liberation Sans, sans-serif" font-size="10.5" fill="#dcdcdc" text-anchor="middle" >12:25</text>
<text x="214.5" y="670" font-family="Liberation Sans, sans-serif" font-size="10.5" fill="#dcdcdc" text-anchor="middle" >12:49</text>
<text x="274.5" y="670" font-family="Liberation Sans, sans-serif" font-size="10.5" fill="#dcdcdc" text-anchor="middle" >12:58</text>
<text x="333.5" y="670" font-family="Liberation Sans, sans-serif" font-size="10.5" fill="#dcdcdc" text-anchor="middle" >13:06</text>
<text x="393.5" y="670" font-family="Liberation Sans, sans-serif" font-size="10.5" fill="#dcdcdc" text-anchor="middle" >13:23</text>
<text x="453.5" y="670" font-family="Liberation Sans, sans-serif" font-size="10.5" fill="#dcdcdc" text-anchor="middle" >13:51</text>
<text x="513.5" y="670" font-family="Liberation Sans, sans-serif" font-size="10.5" fill="#dcdcdc" text-anchor="middle" >14:00</text>
<text x="573.5" y="670" font-family="Liberation Sans, sans-serif" font-size="10.5" fill="#dcdcdc" text-anchor="middle" >14:07</text>
<text x="632.5" y="670" font-family="Liberation Sans, sans-serif" font-size="10.5" fill="#dcdcdc" text-anchor="middle" >14:10</text>
<text x="692.5" y="670" font-family="Liberation Sans, sans-serif" font-size="10.5" fill="#dcdcdc" text-anchor="middle" >14:38</text>
<text x="752.5" y="670" font-family="Liberation Sans, sans-serif" font-size="10.5" fill="#dcdcdc" text-anchor="middle" >14:50</text>
<text x="812.5" y="670" font-family="Liberation Sans, sans-serif" font-size="10.5" fill="#dcdcdc" text-anchor="middle" >15:09</text>
<text x="871.5" y="670" font-family="Liberation Sans, sans-serif" font-size="10.5" fill="#dcdcdc" text-anchor="middle" >15:23</text>
<text x="931.5" y="670" font-family="Liberation Sans, sans-serif" font-size="10.5" fill="#dcdcdc" text-anchor="middle" >16:02</text>
<text x="991.5" y="670" font-family="Liberation Sans, sans-serif" font-size="10.5" fill="#dcdcdc" text-anchor="middle" >16:13</text>
<text x="1051.5" y="670" font-family="Liberation Sans, sans-serif" font-size="10.5" fill="#dcdcdc" text-anchor="middle" >16:18</text>
<text x="1111.5" y="670" font-family="Liberation Sans, sans-serif" font-size="10.5" fill="#dcdcdc" text-anchor="middle" >16:30</text>
<text x="1170.5" y="670" font-family="Liberation Sans, sans-serif" font-size="10.5" fill="#dcdcdc" text-anchor="middle" >16:56</text>
<text x="1230.5" y="670" font-family="Liberation Sans, sans-serif" font-size="10.5" fill="#dcdcdc" text-anchor="middle" >17:42</text>
<text x="5" y="461.8" font-family="Liberation Sans, sans-serif" font-size="10.6" fill="#d0d0d0" text-anchor="start" >Superior ADX/DMI by ninZa.co</text>
<text x="5" y="638" font-family="Liberation Sans, sans-serif" font-size="10.6" fill="#d0d0d0" text-anchor="start" >© 2019 NinjaTrader, LLC</text>
<text x="4.5" y="688.4" font-family="Liberation Sans, sans-serif" font-size="9" fill="#bdbdbd" text-anchor="start" >NQ 09-19</text>
<path d="M1288,602 L1294.5,594 H1347.5 V610 H1294.5 Z" fill="#3f3f46" stroke="#b4b4b4" stroke-width="1"/>
<text x="1303" y="606.5" font-family="Liberation Sans, sans-serif" font-size="10.5" fill="#ffffff" text-anchor="start" >17.87</text>
<path d="M1288,595.5 L1294.5,587.5 H1347.5 V603.5 H1294.5 Z" fill="#3f3f46" stroke="#b4b4b4" stroke-width="1"/>
<text x="1303" y="600.0" font-family="Liberation Sans, sans-serif" font-size="10.5" fill="#ffffff" text-anchor="start" >21.67</text>
<path d="M1288,554.8 L1294.5,546.8 H1347.5 V562.8 H1294.5 Z" fill="#3f3f46" stroke="#b4b4b4" stroke-width="1"/>
<text x="1303" y="559.3" font-family="Liberation Sans, sans-serif" font-size="10.5" fill="#ffffff" text-anchor="start" >44.89</text>
<path d="M1288,319.5 L1294.5,311.5 H1347.5 V327.5 H1294.5 Z" fill="#3f3f46" stroke="#b4b4b4" stroke-width="1"/>
<text x="1303" y="324.0" font-family="Liberation Sans, sans-serif" font-size="10.5" fill="#ffffff" text-anchor="start" >7817.00</text>
<rect x="1329.5" y="2.5" width="16" height="18" fill="#2d2d30" stroke="#3f3f46" stroke-width="1"/>
<path d="M1334.6,17 V6.9 H1341.4 M1334.6,11.7 H1340.4" fill="none" stroke="#d4d4d4" stroke-width="1.4"/>
<rect x="1329.5" y="450.5" width="16" height="18" fill="#2d2d30" stroke="#3f3f46" stroke-width="1"/>
<path d="M1334.6,465 V454.9 H1341.4 M1334.6,459.7 H1340.4" fill="none" stroke="#d4d4d4" stroke-width="1.4"/>
<path d="M1262,21 H1278.5 M1270.8,13.7 L1278.8,21 L1270.8,28.3" fill="none" stroke="#d0d0d0" stroke-width="2"/>
<g opacity="0.9">
<path d="M1190.5,679.3 C1184,678.5 1181.6,684 1183,688 C1184,691 1187,692.9 1189.8,692.3" fill="none" stroke="#b09880" stroke-width="1.9"/>
<path d="M1187.3,680.8 C1189.3,683 1190.8,688 1192.8,692" fill="none" stroke="#b09880" stroke-width="2.3"/>
<path d="M1190.2,679.5 C1192.6,682 1194.4,688 1196,692.5" fill="none" stroke="#cc1820" stroke-width="3"/>
<path d="M1196,679.6 C1200.8,681 1202.4,686.5 1200,689.6 C1199,691 1197.5,692.2 1195.8,692.6" fill="none" stroke="#cc1820" stroke-width="1.9"/>
<path d="M1207.3,690.6 V682.3 L1216.2,690.6 V682.3 M1221.7,682.3 V690.6 M1227.9,690.6 V682.3 L1236.8,690.6 V682.3 M1246.5,682.3 V688.0 Q1246.5,690.6 1243,690.6 Q1239.6,690.6 1239.6,688.0 M1249.6,690.6 L1254.8,682.3 L1260,690.6 M1251.5,687.8000000000001 H1258.1" fill="none" stroke="#a89078" stroke-width="1.15" stroke-linejoin="miter"/>
<path d="M1261,682.3 H1271 M1266,682.3 V690.6 M1274.6,690.6 V682.3 H1281.5 Q1284.4,682.3 1284.4,684.5999999999999 Q1284.4,686.9 1281.5,686.9 H1274.6 M1280.6,686.9 L1284.8,690.6 M1286.9,690.6 L1293,682.3 L1299.2,690.6 M1289.1,687.8000000000001 H1296.9 M1302.8,690.6 V682.3 H1308.5 Q1312.9,682.3 1312.9,686.4499999999999 Q1312.9,690.6 1308.5,690.6 Z M1325.5,682.3 H1317.1 V690.6 H1325.5 M1317.1,686.4 H1324.6 M1330.1,690.6 V682.3 H1337 Q1339.9,682.3 1339.9,684.5999999999999 Q1339.9,686.9 1337,686.9 H1330.1 M1336.1,686.9 L1340.3,690.6" fill="none" stroke="#c8181e" stroke-width="1.25" stroke-linejoin="miter"/>
<circle cx="1344.2" cy="683.9" r="1.6" fill="none" stroke="#c8181e" stroke-width="0.7"/>
</g>
</svg>
</body></html>
